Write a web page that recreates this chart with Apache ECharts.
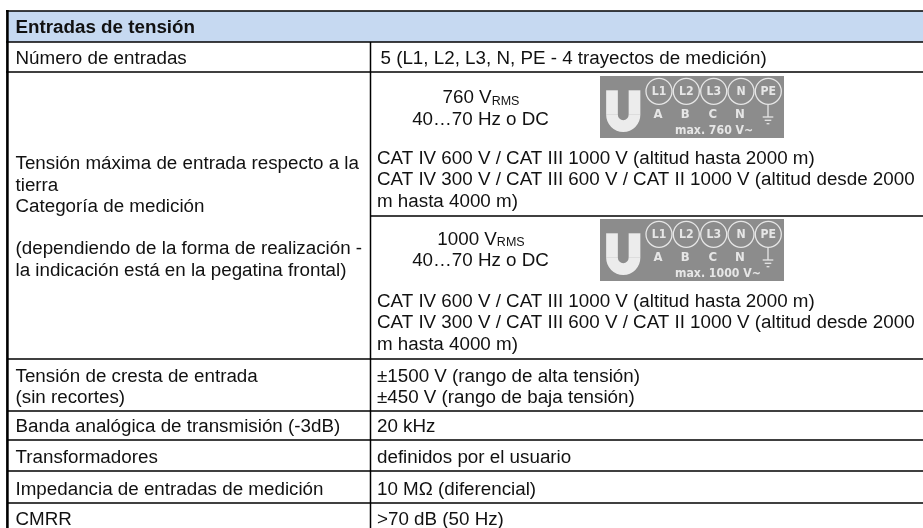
<!DOCTYPE html>
<html>
<head>
<meta charset="utf-8">
<style>
  html, body { margin: 0; padding: 0; background: #fff; }
  #main { width: 923px; height: 528px; }
</style>
<script src="https://cdn.jsdelivr.net/npm/echarts@6/dist/echarts.min.js"></script>
</head>
<body>
<div id="main"></div>
<script>
const tableTitle = "Entradas de tensión";

const leftLabels = [
  "Número de entradas",
  "Tensión máxima de entrada respecto a la",
  "tierra",
  "Categoría de medición",
  "(dependiendo de la forma de realización -",
  "la indicación está en la pegatina frontal)",
  "Tensión de cresta de entrada",
  "(sin recortes)",
  "Banda analógica de transmisión (-3dB)",
  "Transformadores",
  "Impedancia de entradas de medición",
  "CMRR",
];
const leftY = [58.7, 164, 185.7, 207, 249, 270.7, 376.7, 397.7, 427, 458, 489.7, 520];

const rightValues = [
  "5 (L1, L2, L3, N, PE - 4 trayectos de medición)",
  "CAT IV 600 V / CAT III 1000 V (altitud hasta 2000 m)",
  "CAT IV 300 V / CAT III 600 V / CAT II 1000 V (altitud desde 2000",
  "m hasta 4000 m)",
  "CAT IV 600 V / CAT III 1000 V (altitud hasta 2000 m)",
  "CAT IV 300 V / CAT III 600 V / CAT II 1000 V (altitud desde 2000",
  "m hasta 4000 m)",
  "±1500 V (rango de alta tensión)",
  "±450 V (rango de baja tensión)",
  "20 kHz",
  "definidos por el usuario",
  "10 MΩ (diferencial)",
  ">70 dB (50 Hz)",
];
const rightY = [58.7, 158.7, 180.2, 201.7, 301.7, 323.2, 344.7, 376.7, 397.7, 427, 458, 489.7, 520];
const rightX = [380.5, 377, 377, 377, 377, 377, 377, 377, 377, 377, 377, 377, 377];

const voltageLabels = ["760 V", "1000 V"];
const freqLabel = "40…70 Hz o DC";
const voltageY = [98.2, 239.7];
const freqY = [119.7, 261.2];

// badge texts
const terminals = ["L1", "L2", "L3", "N", "PE"];
const phases = ["A", "B", "C", "N"];
const badgeMax = ["max. 760 V~", "max. 1000 V~"];
const badgeTop = [76, 219];

// table lines
const fullLines = [11, 42, 72];
const rowLines = [359, 411, 440, 471, 503];
const splitLine = 216;
const colX = 370.5;

const font = '18.8px "Liberation Sans", Arial, sans-serif';
const badgeFont = '"DejaVu Sans Condensed", "DejaVu Sans", sans-serif';
const textColor = "#111";
const badgeFg = "#e6e6e6";

function txt(s, x, y, extra) {
  return {
    type: "text",
    z: 5,
    style: Object.assign(
      { text: s, x: x, y: y, font: font, fill: textColor, verticalAlign: "middle" },
      extra || {}
    ),
  };
}

function hline(y, x1, x2) {
  return {
    type: "line",
    z: 3,
    shape: { x1: x1, y1: y, x2: x2, y2: y },
    style: { stroke: "#000", lineWidth: 1.7 },
  };
}

function gline(x1, y1, x2, y2, color, w) {
  return { type: "line", z: 3, shape: { x1: x1, y1: y1, x2: x2, y2: y2 }, style: { stroke: color || badgeFg, lineWidth: w || 1.3 } };
}

function badge(top, maxText) {
  const els = [];
  els.push({ type: "rect", z: 2, shape: { x: 600, y: top, width: 184, height: 62 }, style: { fill: "#8c8c8c" } });
  // big U
  els.push(gline(612, top + 14.3, 612, top + 38.8, "#ececec", 11.7));
  els.push(gline(634.5, top + 14.3, 634.5, top + 38.8, "#ececec", 11.7));
  els.push({
    type: "arc",
    z: 3,
    shape: { cx: 623.25, cy: top + 38.8, r: 11.25, startAngle: 0, endAngle: Math.PI, clockwise: true },
    style: { fill: null, stroke: "#ececec", lineWidth: 11.7 },
  });
  const cx = [659, 686.3, 713.7, 741, 768.3];
  terminals.forEach(function (t, i) {
    els.push({ type: "circle", z: 3, shape: { cx: cx[i], cy: top + 15.3, r: 13 }, style: { fill: null, stroke: badgeFg, lineWidth: 1.3 } });
    els.push(txt(t, cx[i], top + 15.8, { font: "bold 12.2px " + badgeFont, fill: badgeFg, align: "center" }));
  });
  phases.forEach(function (p, i) {
    els.push(txt(p, cx[i] - 1, top + 38.8, { font: "bold 13px " + badgeFont, fill: badgeFg, align: "center" }));
  });
  // ground symbol
  const gx = 768;
  els.push(gline(gx, top + 28.7, gx, top + 41));
  els.push(gline(gx - 5.3, top + 41, gx + 5.3, top + 41));
  els.push(gline(gx - 3.3, top + 44.3, gx + 3.3, top + 44.3));
  els.push(gline(gx - 1.4, top + 47.7, gx + 1.4, top + 47.7));
  els.push(txt(maxText, 675, top + 54.6, { font: "bold 12.2px " + badgeFont, fill: badgeFg }));
  return els;
}

const elements = [];

// header band and title
elements.push({ type: "rect", z: 1, shape: { x: 7, y: 11, width: 916, height: 31 }, style: { fill: "#c6d9f1" } });
elements.push(txt(tableTitle, 15.5, 27.7, { font: 'bold 18.8px "Liberation Sans", Arial, sans-serif' }));

// grid
fullLines.forEach(function (y) { elements.push(hline(y, 6, 923)); });
rowLines.forEach(function (y) { elements.push(hline(y, 7, 923)); });
elements.push(hline(splitLine, colX, 923));
elements.push(gline(7.4, 10, 7.4, 528, "#000", 2.6));
elements.push(gline(colX, 42, colX, 528, "#000", 1.5));

// cell text
leftLabels.forEach(function (s, i) { elements.push(txt(s, 15.5, leftY[i])); });
rightValues.forEach(function (s, i) { elements.push(txt(s, rightX[i], rightY[i])); });

voltageLabels.forEach(function (s, i) {
  elements.push({
    type: "text",
    z: 5,
    style: {
      x: 481, y: voltageY[i],
      text: s + "{sub|RMS}",
      font: font, fill: textColor, align: "center", verticalAlign: "middle",
      rich: { sub: { fontSize: 12.5, fontFamily: "Liberation Sans", fill: textColor, padding: [6, 0, 0, 0] } },
    },
  });
  elements.push(txt(freqLabel, 480.5, freqY[i], { align: "center" }));
});

badge(badgeTop[0], badgeMax[0]).forEach(function (e) { elements.push(e); });
badge(badgeTop[1], badgeMax[1]).forEach(function (e) { elements.push(e); });

const chart = echarts.init(document.getElementById("main"), null, { renderer: "canvas" });
chart.setOption({ animation: false, backgroundColor: "#fff", graphic: { elements: elements } });
</script>
</body>
</html>
